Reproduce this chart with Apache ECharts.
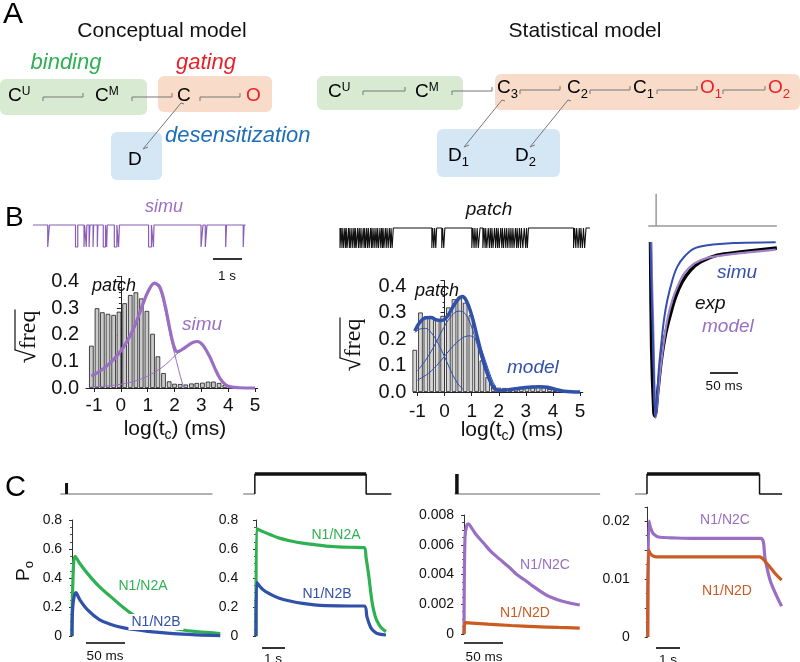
<!DOCTYPE html>
<html><head><meta charset="utf-8">
<script src="https://cdn.jsdelivr.net/npm/echarts@6/dist/echarts.min.js"></script>
<style>html,body{margin:0;padding:0;background:#fff}#c{width:800px;height:662px}</style>
</head><body><div id="c"></div>
<script>
// ---------------- DATA ----------------
// Panel B: dwell-time histogram of the patch recording (bin centres in log10 ms, sqrt(freq))
const binCenters = [-1.10,-0.89,-0.69,-0.48,-0.27,-0.07,0.14,0.35,0.56,0.76,0.97,1.18,1.38,1.59,1.80,2.00,2.21,2.42,2.63,2.83,3.04,3.25,3.45,3.66,3.87,4.07];
const patchHist  = [0.159,0.300,0.285,0.279,0.275,0.287,0.319,0.350,0.360,0.337,0.290,0.204,0.119,0.056,0.025,0.016,0.015,0.013,0.017,0.019,0.020,0.024,0.024,0.019,0.011,0.006];
const histTicks = [-1,0,1,2,3,4,5];
// simulated-data density (thick) and its components (thin)
const simuFit = [[-1.1,0.045],[-0.8,0.062],[-0.5,0.085],[-0.2,0.115],[0,0.14],[0.2,0.17],[0.5,0.23],[0.8,0.31],[1.0,0.36],[1.25,0.395],[1.45,0.38],[1.65,0.31],[1.85,0.21],[2.0,0.15],[2.1,0.137],[2.3,0.146],[2.5,0.16],[2.7,0.172],[2.85,0.175],[3.05,0.162],[3.3,0.12],[3.5,0.075],[3.7,0.035],[3.9,0.012],[4.1,0.004],[4.4,0.001],[5.0,0.0]];
const simuComp1 = [[-1.1,0.045],[-0.5,0.083],[0,0.135],[0.5,0.225],[1.0,0.355],[1.25,0.39],[1.45,0.37],[1.65,0.29],[1.85,0.19],[2.0,0.13],[2.15,0.07],[2.3,0.015],[2.4,0.0]];
const simuComp2 = [[-1.1,0.004],[-0.5,0.008],[0,0.014],[0.5,0.025],[1.0,0.045],[1.5,0.075],[1.8,0.1],[2.05,0.125],[2.3,0.145],[2.5,0.16]];
// model density fitted to the patch histogram and its components
const modelFit = [[-1.1,0.23],[-0.9,0.265],[-0.7,0.28],[-0.5,0.281],[-0.3,0.272],[-0.1,0.27],[0.1,0.285],[0.3,0.32],[0.5,0.35],[0.65,0.36],[0.8,0.345],[1.0,0.29],[1.2,0.21],[1.4,0.13],[1.6,0.065],[1.8,0.018],[2.0,0.006],[2.3,0.008],[2.7,0.013],[3.1,0.018],[3.5,0.02],[3.8,0.018],[4.1,0.01],[4.4,0.003],[5.0,0.0]];
const modelComp1 = [[-1.1,0.225],[-0.9,0.238],[-0.7,0.24],[-0.5,0.225],[-0.3,0.195],[-0.1,0.155],[0.1,0.11],[0.3,0.065],[0.5,0.03],[0.7,0.008]];
const modelComp2 = [[-1.0,0.08],[-0.7,0.12],[-0.4,0.17],[-0.1,0.23],[0.2,0.28],[0.5,0.305],[0.6,0.305],[0.8,0.29],[1.0,0.245],[1.2,0.18],[1.4,0.11],[1.6,0.05],[1.8,0.01]];
const modelComp3 = [[-1.0,0.045],[-0.6,0.07],[-0.2,0.11],[0.2,0.16],[0.6,0.2],[0.9,0.212],[1.1,0.205],[1.3,0.175],[1.5,0.12],[1.7,0.06],[1.9,0.015],[2.0,0.005]];
// single-channel traces: opening intervals [start, end] in s
const simuEvents = [[0.52,0.58],[1.50,1.58],[1.80,1.82],[1.88,1.90],[1.98,2.01],[2.12,2.14],[2.27,2.29],[2.48,2.56],[2.60,2.62],[2.87,2.96],[3.02,3.05],[4.08,4.18],[4.25,4.27],[5.93,6.00],[6.08,6.14],[6.80,6.83],[7.42,7.45]];
const simuEnd = 7.5;
const patchEvents = [[0.00,0.04],[0.07,0.10],[0.13,0.17],[0.20,0.22],[0.25,0.30],[0.33,0.35],[0.38,0.42],[0.45,0.49],[0.52,0.54],[0.57,0.62],[0.65,0.68],[0.71,0.74],[0.77,0.82],[0.85,0.87],[0.90,0.94],[0.97,1.00],[1.03,1.08],[1.11,1.13],[1.16,1.20],[1.23,1.27],[1.30,1.33],[1.36,1.41],[1.44,1.47],[1.50,1.52],[1.55,1.60],[1.63,1.66],[1.70,1.74],[1.78,1.80],[1.84,1.88],
  [3.24,3.27],[3.31,3.34],[3.38,3.41],[3.59,3.62],[3.66,3.70],
  [4.65,4.69],[4.73,4.76],[4.80,4.84],[4.88,4.94],
  [5.04,5.08],[5.12,5.14],[5.18,5.23],[5.27,5.30],[5.34,5.36],[5.40,5.45],[5.49,5.52],[5.56,5.58],[5.62,5.67],[5.71,5.73],[5.77,5.81],[5.85,5.88],[5.92,5.96],[6.00,6.03],[6.07,6.10],[6.14,6.19],[6.23,6.25],[6.29,6.33],[6.37,6.40],[6.45,6.50],[6.55,6.58],[6.61,6.65],
  [8.24,8.28],[8.32,8.35],[8.40,8.44],[8.48,8.50],[8.55,8.59],[8.63,8.68]];
const patchEnd = 8.82;
// Panel B right: normalised macroscopic currents [t ms, I]
const curSimu  = [[-8,0],[-4,-0.5],[1.2,-0.99],[4.1,-0.86],[7.1,-0.71],[11.2,-0.575],[15.9,-0.44],[21.8,-0.33],[30.6,-0.217],[39.4,-0.14],[51.2,-0.085],[68.8,-0.038],[92.4,-0.019],[139,-0.006],[213,-0.001]];
const curModel = [[-7,0],[-3,-0.5],[1.2,-1.0],[5.3,-0.86],[10,-0.71],[15.9,-0.56],[21.8,-0.44],[30.6,-0.33],[39.4,-0.255],[51.2,-0.18],[68.8,-0.123],[92.4,-0.09],[127.6,-0.072],[168.8,-0.058],[213,-0.043]];
const curExp   = [[-8,0],[-6,-0.6],[-2,-0.97],[0,-0.99],[5.3,-0.84],[11.2,-0.67],[18.8,-0.52],[27.6,-0.406],[36.5,-0.311],[48.2,-0.226],[62.9,-0.16],[80.6,-0.113],[110,-0.075],[151,-0.057],[215,-0.034]];
const jumpStim = [[-12,0],[215,0]];
const jumpMark = [[2,0],[2,0.95]];
// Panel C: open probability [t, Po]
const c1A = [[0,0],[1,0.35],[4,0.55],[10,0.5],[20,0.43],[35,0.34],[50,0.27],[65,0.2],[80,0.14],[100,0.093],[120,0.064],[140,0.043],[160,0.03],[190,0.017]];
const c1B = [[0,0],[1,0.2],[5,0.3],[10,0.25],[20,0.18],[35,0.113],[50,0.08],[65,0.058],[80,0.045],[100,0.03],[130,0.016],[160,0.008],[190,0.003]];
const c2A = [[0,0],[0.02,0.74],[0.3,0.72],[0.6,0.70],[1.0,0.675],[1.5,0.655],[2.0,0.64],[2.5,0.63],[3.0,0.62],[3.5,0.615],[4.0,0.612],[4.64,0.61],[4.72,0.54],[4.83,0.42],[4.97,0.24],[5.1,0.14],[5.2,0.1],[5.35,0.06],[5.57,0.03]];
const c2B = [[0,0],[0.03,0.37],[0.3,0.32],[0.6,0.29],[1.0,0.26],[1.5,0.24],[2.0,0.225],[2.5,0.215],[3.0,0.21],[4.0,0.207],[4.64,0.207],[4.76,0.13],[4.9,0.064],[5.0,0.04],[5.19,0.018],[5.57,0.007]];
const c3C = [[0,0],[1.2,0.0065],[3.4,0.0073],[5.5,0.0074],[10,0.0071],[15,0.0067],[25,0.0061],[35,0.0055],[46,0.005],[57,0.0045],[67,0.004],[78,0.0036],[88,0.0032],[99,0.0028],[109,0.0025],[125,0.0022],[147,0.00195]];
const c3D = [[0,0],[1.5,0.00076],[10,0.00073],[30,0.00066],[60,0.00057],[90,0.0005],[120,0.00044],[147,0.0004]];
const c4C = [[0,0],[0.05,0.02],[0.12,0.0188],[0.24,0.0178],[0.5,0.0172],[1.0,0.0171],[2,0.017],[3,0.017],[4,0.017],[4.71,0.017],[4.9,0.0133],[5.1,0.0098],[5.38,0.007],[5.58,0.0053]];
const c4D = [[0,0],[0.03,0.015],[0.17,0.0141],[0.38,0.0138],[1,0.0138],[2,0.0138],[3,0.0138],[4.65,0.0138],[4.96,0.0127],[5.3,0.011],[5.58,0.0098]];
// stimulus protocols (0 = no agonist, 1 = agonist)
const c1StimBase = [[-15,0],[180,0]], c1Pulse = [[-7,0],[-7,0.55]];
const c2StimPre = [[-0.55,0],[-0.05,0]], c2StimUp = [[-0.05,0],[-0.05,1]], c2StimTop = [[-0.05,1],[4.72,1]], c2StimDown = [[4.72,1],[4.72,0],[5.8,0]];
const c3StimBase = [[-12,0],[173,0]], c3Pulse = [[-9,0],[-9,1]];
const c4StimPre = [[-0.53,0],[-0.03,0]], c4StimUp = [[-0.03,0],[-0.03,1]], c4StimTop = [[-0.03,1],[4.66,1]], c4StimDown = [[4.66,1],[4.66,0],[5.6,0]];

// ---------------- STYLE ----------------
const FF = "'Liberation Sans', Arial, sans-serif";
const SERIF = "'Liberation Serif', 'Times New Roman', serif";
const PURPLE = '#9a6fc3', BLUE = '#3150aa', GREEN = '#2fb152', ORANGE = '#cc5b22', RED = '#e8202a';
const DBLUE = '#1f6fb8';
const mctx = document.createElement('canvas').getContext('2d');
function fnt(size, italic, fam){ return (italic ? 'italic ' : '') + size + 'px ' + (fam || FF); }
function tw(t, f){ mctx.font = f; return mctx.measureText(t).width; }
function T(x, y, text, size, color, o){
  o = o || {};
  const al = o.align || 'left';
  return { type:'text', x:x, y:y, z:o.z || 50, style:Object.assign({ text:text, font:fnt(size, o.italic, o.fam), fill:color || '#000',
    align:al, textAlign:al, verticalAlign:'middle', textVerticalAlign:'middle' }, o.style || {}) };
}
function seq(x, y, parts, align, color){
  const fonts = parts.map(p => fnt(p.size, p.italic, p.fam));
  const ws = parts.map((p, i) => tw(p.t, fonts[i]));
  const tot = ws.reduce((a, b) => a + b, 0);
  let cx = align === 'center' ? x - tot / 2 : (align === 'right' ? x - tot : x);
  return parts.map((p, i) => { const e = { type:'text', x:cx, y:y + (p.dy || 0), z:50,
    style:{ text:p.t, font:fonts[i], fill:p.color || color || '#000', align:'left', textAlign:'left', verticalAlign:'middle', textVerticalAlign:'middle' } }; cx += ws[i]; return e; });
}
function eq(x1, x2, y){ return { type:'polyline', z:40, shape:{ points:[[x1, y + 4], [x1, y], [x2, y], [x2, y - 4]] }, style:{ stroke:'#777', lineWidth:1, fill:null } }; }
function diag(x1, y1, x2, y2){ return { type:'polyline', z:40, shape:{ points:[[x1 + 3, y1 + 1], [x1, y1], [x2, y2], [x2 + 5, y2 - 2]] }, style:{ stroke:'#777', lineWidth:1, fill:null } }; }
function box(x, y, w, h, c){ return { type:'rect', z:1, shape:{ x:x, y:y, width:w, height:h, r:6 }, style:{ fill:c } }; }
function bar(x1, x2, y){ return { type:'line', z:50, shape:{ x1:x1, y1:y, x2:x2, y2:y }, style:{ stroke:'#000', lineWidth:1.6 } }; }

function stepTrace(events, tEnd){
  const d = [[0, 0]];
  events.forEach(e => { d.push([e[0], 0], [e[0], -1], [e[1], -1], [e[1], 0]); });
  d.push([tEnd, 0]);
  return d;
}

// ---------------- GRIDS / AXES ----------------
// [left, top, width, height, xmin, xmax, ymin, ymax]
const G = [
  [86.0, 276.4, 171.7, 111.6, -1.3, 5.1, 0, 0.42],     // 0 hist simu
  [413.4, 280.7, 169.4, 111.3, -1.15, 5.1, 0, 0.42],   // 1 hist model
  [648.2, 233.2, 131.5, 188.3, -12, 220, -1.02, 0.05], // 2 currents
  [648.2, 192, 131.5, 34, -12, 220, 0, 1],             // 3 jump stimulus
  [33, 222.8, 212.5, 26.4, 0, simuEnd, -1.1, 0.1],     // 4 simu trace
  [340, 226, 250, 24, 0, patchEnd, -1.1, 0.1],         // 5 patch trace
  [68.1, 520, 153.7, 116, -5, 192, 0, 0.8],            // 6 C1
  [57.96, 474, 163.8, 20, -18, 192, 0, 1],             // 7 C1 stim
  [244.3, 520, 147, 116, -0.5, 5.8, 0, 0.8],           // 8 C2
  [242, 474, 151.7, 20, -0.6, 5.9, 0, 1],              // 9 C2 stim
  [460.1, 515, 122, 119, -5, 150, 0, 0.008],           // 10 C3
  [451.4, 474, 150.3, 20, -16, 175, 0, 1],             // 11 C3 stim
  [635.7, 507.1, 148.8, 129.9, -0.5, 5.7, 0, 0.0224],  // 12 C4
  [633.3, 474, 153.6, 20, -0.6, 5.8, 0, 1]             // 13 C4 stim
];
const grid = G.map(g => ({ left:g[0], top:g[1], width:g[2], height:g[3], containLabel:false, outerBoundsMode:'none' }));
const axLine = { show:true, lineStyle:{ color:'#222', width:1 } };
const xAxis = G.map((g, i) => ({ type:'value', gridIndex:i, min:g[4], max:g[5], show:false }));
const yAxis = G.map((g, i) => ({ type:'value', gridIndex:i, min:g[6], max:g[7], show:false }));
[0, 1].forEach(i => {
  xAxis[i] = { type:'value', gridIndex:i, min:G[i][4], max:G[i][5], show:true, axisLine:axLine,
    axisTick:{ show:true, length:4, customValues:histTicks, lineStyle:{ color:'#222' } },
    axisLabel:{ show:true, customValues:histTicks, fontSize:19, fontFamily:FF, color:'#111', margin:i ? 10 : 8 },
    splitLine:{ show:false } };
  yAxis[i] = { type:'value', gridIndex:i, min:0, max:0.42, interval:0.1, show:true, axisLine:axLine,
    axisTick:{ show:true, length:4, lineStyle:{ color:'#222' } },
    minorTick:{ show:true, splitNumber:5, length:2, lineStyle:{ color:'#222' } },
    axisLabel:{ show:true, fontSize:20, fontFamily:FF, color:'#111', margin:7, showMaxLabel:false, formatter:v => v.toFixed(1) },
    splitLine:{ show:false }, minorSplitLine:{ show:false } };
});
function cY(i, interval, fmt, minorN){
  yAxis[i] = { type:'value', gridIndex:i, min:G[i][6], max:G[i][7], interval:interval, show:true,
    axisLine:{ show:true, lineStyle:{ color:'#333', width:1 } },
    axisTick:{ show:true, length:3, lineStyle:{ color:'#333' } },
    minorTick:{ show:true, splitNumber:minorN, length:2, lineStyle:{ color:'#555' } },
    axisLabel:{ show:true, fontSize:14, fontFamily:FF, color:'#111', margin:6, showMaxLabel:G[i][7] / interval % 1 === 0, formatter:fmt },
    splitLine:{ show:false }, minorSplitLine:{ show:false } };
}
const f1 = v => Math.abs(v) < 1e-12 ? '0' : v.toFixed(1);
cY(6, 0.2, f1, 4); cY(8, 0.2, f1, 4);
cY(10, 0.002, v => Math.abs(v) < 1e-12 ? '0' : v.toFixed(3), 4);
cY(12, 0.005, v => Math.abs(v) < 1e-12 ? '0' : (Math.abs(v - 0.01) < 1e-9 ? '0.01' : (Math.abs(v - 0.02) < 1e-9 ? '0.02' : '')), 2);
yAxis[12].axisLabel.showMaxLabel = false;

// ---------------- SERIES ----------------
function L(gi, data, color, width, extra){
  return Object.assign({ type:'line', xAxisIndex:gi, yAxisIndex:gi, data:data, symbol:'none', showSymbol:false, clip:false,
    silent:true, animation:false, lineStyle:{ color:color, width:width } }, extra || {});
}
const sm = { smooth:0.35 };
const hist = binCenters.map((x, i) => [x, patchHist[i]]);
const series = [
  { type:'bar', xAxisIndex:0, yAxisIndex:0, data:hist, barWidth:4.6, silent:true, animation:false, itemStyle:{ color:'#cacaca', borderColor:'#1a1a1a', borderWidth:0.8 } },
  L(0, simuComp2, PURPLE, 1, sm), L(0, simuComp1, PURPLE, 1, sm), L(0, simuFit, PURPLE, 3.2, sm),
  { type:'bar', xAxisIndex:1, yAxisIndex:1, data:hist, barWidth:4.6, silent:true, animation:false, itemStyle:{ color:'#d8d8d8', borderColor:'#1a1a1a', borderWidth:0.8 } },
  L(1, modelComp1, BLUE, 1, sm), L(1, modelComp2, BLUE, 1, sm), L(1, modelComp3, BLUE, 1, sm), L(1, modelFit, BLUE, 3.5, sm),
  L(2, curExp, '#000', 3.4, { smooth:0.3 }), L(2, curModel, '#a080c8', 2.2, { smooth:0.3 }), L(2, curSimu, '#3350b0', 2, { smooth:0.3 }),
  L(3, jumpStim, '#999', 1.5), L(3, jumpMark, '#999', 1.5),
  L(4, stepTrace(simuEvents, simuEnd), '#8a5db8', 1.2),
  L(5, stepTrace(patchEvents, patchEnd), '#111', 1.1),
  L(7, c1StimBase, '#999', 1.5), L(7, c1Pulse, '#111', 3),
  L(6, c1A, GREEN, 3.2, sm), L(6, c1B, BLUE, 3.2, sm),
  L(9, c2StimPre, '#999', 1.5), L(9, c2StimUp, '#111', 1.5), L(9, c2StimTop, '#111', 3.5), L(9, c2StimDown, '#111', 1.5),
  L(8, c2A, GREEN, 3.2, sm), L(8, c2B, BLUE, 3.2, sm),
  L(11, c3StimBase, '#999', 1.5), L(11, c3Pulse, '#111', 3.5),
  L(10, c3C, PURPLE, 3.2, sm), L(10, c3D, ORANGE, 3.2, sm),
  L(13, c4StimPre, '#999', 1.5), L(13, c4StimUp, '#111', 1.5), L(13, c4StimTop, '#111', 3.5), L(13, c4StimDown, '#111', 1.5),
  L(12, c4C, PURPLE, 3.2, sm), L(12, c4D, ORANGE, 3.2, sm)
];

// ---------------- GRAPHIC (diagram, labels, scale bars) ----------------
function sqrtFreq(cx, cy){
  const fw = tw('freq', fnt(24, false, SERIF));
  const rw = tw('\u221A', fnt(26, false, SERIF));
  const x0 = -(fw + rw) / 2;
  return { type:'group', x:cx, y:cy, rotation:Math.PI / 2, z:50, children:[
    { type:'text', x:x0, y:1, style:{ text:'\u221A', font:fnt(26, false, SERIF), fill:'#111', align:'left', textAlign:'left', verticalAlign:'middle', textVerticalAlign:'middle' } },
    { type:'text', x:x0 + rw, y:2, style:{ text:'freq', font:fnt(24, false, SERIF), fill:'#111', align:'left', textAlign:'left', verticalAlign:'middle', textVerticalAlign:'middle' } },
    { type:'line', shape:{ x1:x0 + rw - 1, y1:-12, x2:x0 + rw + fw + 1, y2:-12 }, style:{ stroke:'#111', lineWidth:1.2 } }
  ] };
}
function Po(cx, cy){
  return { type:'group', x:cx, y:cy, rotation:Math.PI / 2, z:50, children:[
    { type:'text', x:-10, y:0, style:{ text:'P', font:fnt(19), fill:'#111', align:'left', textAlign:'left', verticalAlign:'middle', textVerticalAlign:'middle' } },
    { type:'text', x:2.8, y:5, style:{ text:'o', font:fnt(13), fill:'#111', align:'left', textAlign:'left', verticalAlign:'middle', textVerticalAlign:'middle' } }
  ] };
}
const S = 19, SS = 12;
const graphic = [].concat(
  [T(3, 15, 'A', 30, '#000'), T(5, 218, 'B', 28, '#000'), T(5, 488, 'C', 29, '#000')],
  // Panel A left: conceptual model
  [box(0, 79, 147, 36, '#d8ebd2'), box(158, 76, 114, 36, '#f8dcc9'), box(111, 132, 51, 48, '#d5e6f5')],
  [T(162, 31, 'Conceptual model', 21, '#111', { align:'center' }),
   T(66, 63, 'binding', 22, GREEN, { align:'center', italic:true }),
   T(206, 63, 'gating', 22, RED, { align:'center', italic:true }),
   T(165, 136, 'desensitization', 22, DBLUE, { italic:true })],
  seq(8, 96, [{ t:'C', size:S }, { t:'U', size:SS, dy:-4 }], 'left'),
  seq(95, 96, [{ t:'C', size:S }, { t:'M', size:SS, dy:-4 }], 'left'),
  [T(177, 96, 'C', S, '#000'), T(246, 96, 'O', S, RED), T(128, 160, 'D', S, '#000')],
  [eq(43, 83, 97), eq(132, 172, 97), eq(200, 240, 97), diag(181, 103, 143, 149)],
  // Panel A right: statistical model
  [box(317, 76, 146, 34, '#d8ebd2'), box(495, 74, 305, 36, '#f8dcc9'), box(437, 129, 123, 48, '#d5e6f5')],
  [T(585, 31, 'Statistical model', 21, '#111', { align:'center' })],
  seq(328, 92, [{ t:'C', size:S }, { t:'U', size:SS, dy:-4 }], 'left'),
  seq(415, 92, [{ t:'C', size:S }, { t:'M', size:SS, dy:-4 }], 'left'),
  seq(497, 88, [{ t:'C', size:S }, { t:'3', size:13, dy:6 }], 'left'),
  seq(567, 88, [{ t:'C', size:S }, { t:'2', size:13, dy:6 }], 'left'),
  seq(633, 88, [{ t:'C', size:S }, { t:'1', size:13, dy:6 }], 'left'),
  seq(700, 88, [{ t:'O', size:S }, { t:'1', size:13, dy:6 }], 'left', RED),
  seq(768, 88, [{ t:'O', size:S }, { t:'2', size:13, dy:6 }], 'left', RED),
  seq(448, 156, [{ t:'D', size:S }, { t:'1', size:13, dy:6 }], 'left'),
  seq(515, 156, [{ t:'D', size:S }, { t:'2', size:13, dy:6 }], 'left'),
  [eq(363, 405, 91), eq(452, 492, 91), eq(520, 560, 90), eq(590, 630, 90), eq(657, 697, 90), eq(723, 765, 90),
   diag(502, 100, 464, 147), diag(568, 100, 530, 147)],
  // Panel B labels
  [T(164, 207, 'simu', 18, PURPLE, { align:'center', italic:true }),
   T(489, 210, 'patch', 19, '#111', { align:'center', italic:true }),
   bar(213, 242, 259), T(227, 276, '1 s', 13.5, '#111', { align:'center' }),
   T(92, 286, 'patch', 18, '#111', { italic:true }),
   T(182, 325, 'simu', 19, PURPLE, { italic:true }),
   T(415, 291, 'patch', 18, '#111', { italic:true }),
   T(507, 368, 'model', 19, BLUE, { italic:true }),
   T(717, 273, 'simu', 19, '#3350b0', { italic:true }),
   T(695, 304, 'exp', 19, '#111', { italic:true }),
   T(702, 327, 'model', 19, '#9a70c0', { italic:true }),
   bar(710, 738, 373), T(724, 386, '50 ms', 13.5, '#111', { align:'center' }),
   sqrtFreq(27, 337), sqrtFreq(352, 345)],
  seq(175, 429, [{ t:'log(t', size:21 }, { t:'c', size:14, dy:6 }, { t:') (ms)', size:21 }], 'center', '#111'),
  seq(512, 430, [{ t:'log(t', size:21 }, { t:'c', size:14, dy:6 }, { t:') (ms)', size:21 }], 'center', '#111'),
  // Panel C labels
  [Po(24, 571),
   T(143, 586, 'N1/N2A', 14, GREEN, { align:'center' }),
   T(156, 622, 'N1/N2B', 14, BLUE, { align:'center', z:100, style:{ backgroundColor:'#fff', padding:[1, 3] } }),
   bar(86, 125, 643), T(105, 656, '50 ms', 13.5, '#111', { align:'center' }),
   T(336, 535, 'N1/N2A', 14, GREEN, { align:'center' }),
   T(327, 594, 'N1/N2B', 14, BLUE, { align:'center' }),
   bar(262, 285, 648), T(273, 659, '1 s', 13.5, '#111', { align:'center' }),
   T(545, 565, 'N1/N2C', 14, PURPLE, { align:'center' }),
   T(525, 613, 'N1/N2D', 14, ORANGE, { align:'center' }),
   bar(464, 503, 643), T(484, 657, '50 ms', 13.5, '#111', { align:'center' }),
   T(725, 520, 'N1/N2C', 14, PURPLE, { align:'center' }),
   T(727, 591, 'N1/N2D', 14, ORANGE, { align:'center' }),
   bar(656, 680, 648), T(668, 660, '1 s', 13.5, '#111', { align:'center' })]
);

const chart = echarts.init(document.getElementById('c'), null, { renderer:'canvas' });
chart.setOption({ animation:false, backgroundColor:'#fff', grid:grid, xAxis:xAxis, yAxis:yAxis, series:series, graphic:{ elements:graphic } });
</script></body></html>
